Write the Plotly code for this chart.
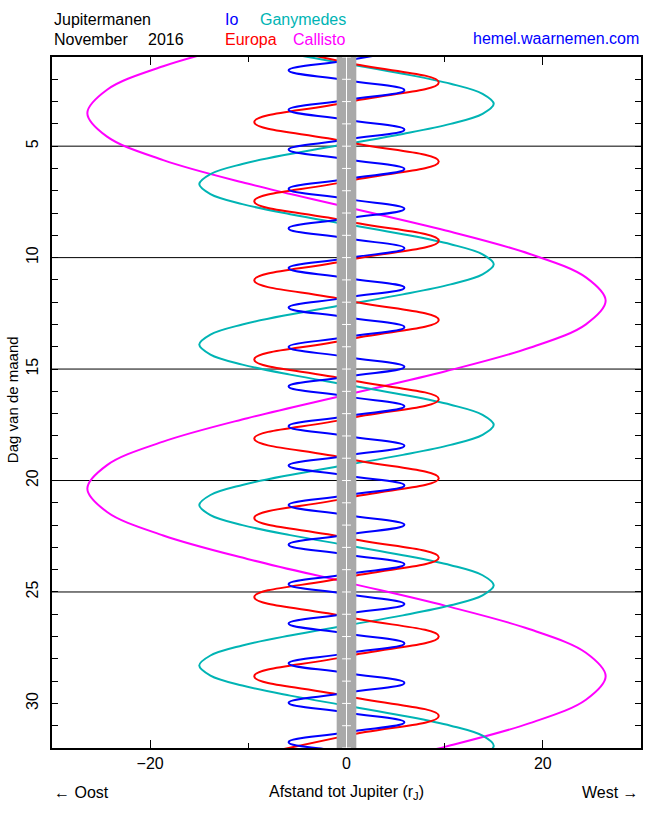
import plotly.graph_objects as go

# ---------------- data ----------------
# Io: turning points (day, distance in Jupiter radii) and zero crossings
io_turn_day = [0.71, 1.60, 2.49, 3.37, 4.26, 5.15, 6.03, 6.92, 7.81, 8.69, 9.58, 10.47,
               11.35, 12.24, 13.12, 14.01, 14.90, 15.78, 16.67, 17.56, 18.44, 19.33, 20.22,
               21.10, 21.99, 22.88, 23.76, 24.65, 25.54, 26.42, 27.31, 28.20, 29.08, 29.97,
               30.85, 31.74, 32.63]
io_turn_x = [5.9, -5.9, 5.9, -5.9, 5.9, -5.9, 5.9, -5.9, 5.9, -5.9, 5.9, -5.9,
             5.9, -5.9, 5.9, -5.9, 5.9, -5.9, 5.9, -5.9, 5.9, -5.9, 5.9,
             -5.9, 5.9, -5.9, 5.9, -5.9, 5.9, -5.9, 5.9, -5.9, 5.9, -5.9,
             5.9, -5.9, 5.9]
io_cross_day = [1.155, 2.045, 2.93, 3.815, 4.705, 5.59, 6.475, 7.365, 8.25, 9.135, 10.025,
                10.91, 11.795, 12.68, 13.565, 14.455, 15.34, 16.225, 17.115, 18.0, 18.885,
                19.775, 20.66, 21.545, 22.435, 23.32, 24.205, 25.095, 25.98, 26.865, 27.755,
                28.64, 29.525, 30.41, 31.295, 32.185]

# Europa: turning points and zero crossings
europa_turn_day = [0.36, 2.14, 3.92, 5.69, 7.47, 9.24, 11.02, 12.80, 14.57, 16.35, 18.12,
                   19.90, 21.68, 23.45, 25.23, 27.00, 28.78, 30.56, 32.33]
europa_turn_x = [-9.4, 9.4, -9.4, 9.4, -9.4, 9.4, -9.4, 9.4, -9.4, 9.4, -9.4,
                 9.4, -9.4, 9.4, -9.4, 9.4, -9.4, 9.4, -9.4]
europa_cross_day = [1.25, 3.03, 4.805, 6.58, 8.355, 10.13, 11.91, 13.685, 15.46, 17.235,
                    19.01, 20.79, 22.565, 24.34, 26.115, 27.89, 29.67, 31.445]

# Ganymedes: positions
ganymedes_day = [0.40, 0.85, 1.30, 1.75, 2.20, 2.65, 3.10, 3.55, 4.00, 4.45, 4.90, 5.35,
                 5.80, 6.25, 6.70, 7.15, 7.60, 8.05, 8.50, 8.95, 9.40, 9.85, 10.30, 10.75,
                 11.20, 11.65, 12.10, 12.55, 13.00, 13.45, 13.90, 14.35, 14.80, 15.25, 15.70,
                 16.15, 16.60, 17.05, 17.50, 17.95, 18.40, 18.85, 19.30, 19.75, 20.20, 20.65,
                 21.10, 21.55, 22.00, 22.45, 22.90, 23.35, 23.80, 24.25, 24.70, 25.15, 25.60,
                 26.05, 26.50, 26.95, 27.40, 27.85, 28.30, 28.75, 29.20, 29.65, 30.10, 30.55,
                 31.00, 31.45, 31.90, 32.35, 32.80]
ganymedes_x = [-10.61, -5.74,
               0.0, 5.74, 10.61, 13.86, 15.0, 13.86, 10.61, 5.74,
               0.0, -5.74, -10.61, -13.86, -15.0, -13.86, -10.61, -5.74,
               0.0, 5.74, 10.61, 13.86, 15.0, 13.86, 10.61, 5.74,
               0.0, -5.74, -10.61, -13.86, -15.0, -13.86, -10.61, -5.74,
               0.0, 5.74, 10.61, 13.86, 15.0, 13.86, 10.61, 5.74,
               0.0, -5.74, -10.61, -13.86, -15.0, -13.86, -10.61, -5.74,
               0.0, 5.74, 10.61, 13.86, 15.0, 13.86, 10.61, 5.74,
               0.0, -5.74, -10.61, -13.86, -15.0, -13.86, -10.61, -5.74,
               0.0, 5.74, 10.61, 13.86, 15.0, 13.86, 10.61]

# Callisto: positions
callisto_day = [-0.69, 0.363, 1.415, 2.468, 3.52, 4.573, 5.625, 6.678, 7.73, 8.783, 9.835,
                10.888, 11.94, 12.993, 14.045, 15.098, 16.15, 17.203, 18.255, 19.308, 20.36,
                21.413, 22.465, 23.518, 24.57, 25.623, 26.675, 27.728, 28.78, 29.833, 30.885,
                31.938, 32.99]
callisto_x = [0.0, -10.10, -18.67, -24.39, -26.4, -24.39, -18.67, -10.10,
              0.0, 10.10, 18.67, 24.39, 26.4, 24.39, 18.67, 10.10,
              0.0, -10.10, -18.67, -24.39, -26.4, -24.39, -18.67, -10.10,
              0.0, 10.10, 18.67, 24.39, 26.4, 24.39, 18.67, 10.10,
              0.0]

# axis ticks
x_tick_vals = [-20, 0, 20]
x_tick_text = ["\u221220", "0", "20"]
x_minor_vals = [-10, 10]
y_tick_vals = [5, 10, 15, 20, 25, 30]
y_tick_text = ["5", "10", "15", "20", "25", "30"]
y_minor_vals = [1, 2, 3, 4, 5, 6, 7, 8, 9, 10, 11, 12, 13, 14, 15, 16, 17, 18, 19, 20,
                21, 22, 23, 24, 25, 26, 27, 28, 29, 30, 31, 32]
week_lines = [5, 10, 15, 20, 25]
jupiter_radius = 1.0

# ---------------- build figure ----------------
def merged(turn_day, turn_x, cross_day):
    pts = list(zip(turn_day, turn_x)) + [(d, 0.0) for d in cross_day]
    pts.sort()
    return [p[0] for p in pts], [p[1] for p in pts]

io_day, io_x = merged(io_turn_day, io_turn_x, io_cross_day)
eu_day, eu_x = merged(europa_turn_day, europa_turn_x, europa_cross_day)

BLUE = "#0000ff"
RED = "#ff0000"
CYAN = "#00b4b4"
MAGENTA = "#ff00ff"

fig = go.Figure()
series = [
    ("Callisto", callisto_day, callisto_x, MAGENTA, 1.0),
    ("Ganymedes", ganymedes_day, ganymedes_x, CYAN, 1.0),
    ("Europa", eu_day, eu_x, RED, 1.3),
    ("Io", io_day, io_x, BLUE, 1.3),
]
for name, yy, xx, col, sm in series:
    fig.add_trace(go.Scatter(
        x=xx, y=yy, mode="lines", name=name,
        line=dict(color=col, width=2, shape="spline", smoothing=sm, simplify=False),
        hoverinfo="skip", showlegend=False))

shapes = []
for d in week_lines:
    shapes.append(dict(type="line", xref="paper", x0=0, x1=1, yref="y", y0=d, y1=d,
                       line=dict(color="black", width=1), layer="below"))
# Jupiter band
shapes.append(dict(type="rect", xref="x", x0=-jupiter_radius, x1=jupiter_radius,
                   yref="paper", y0=0, y1=1, fillcolor="#a9a9a9",
                   line=dict(width=0), layer="above"))
shapes.append(dict(type="line", xref="x", x0=0, x1=0, yref="paper", y0=0, y1=1,
                   line=dict(color="white", width=1), layer="above"))
for d in y_minor_vals:
    shapes.append(dict(type="line", xref="x", x0=-0.45, x1=0.45, yref="y", y0=d, y1=d,
                       line=dict(color="white", width=1), layer="above"))

FONT = "Liberation Sans, Arial, sans-serif"
ann = []
def text(t, x, y, xa="left", color="black", angle=0, size=16):
    ann.append(dict(text=t, x=x, y=y, xref="paper", yref="paper", xanchor=xa,
                    yanchor="middle", showarrow=False, textangle=angle,
                    font=dict(family=FONT, size=size, color=color)))

L, R, T, B = 52, 643, 57, 748
W, H = R - L, B - T
px = lambda p: (p - L) / W
py = lambda p: (B - p) / H

text("Jupitermanen", px(52), py(20))
text("November", px(52), py(39))
text("2016", px(146), py(39))
text("Io", px(224), py(20), color=BLUE)
text("Ganymedes", px(259), py(20), color=CYAN)
text("Europa", px(224), py(39), color=RED)
text("Callisto", px(292), py(39), color=MAGENTA)
text("hemel.waarnemen.com", px(643), py(38), xa="right", color=BLUE)
text("\u2190 Oost", px(52), py(792))
text("Afstand tot Jupiter (r<sub>J</sub>)", px(348), py(792), xa="center")
text("West \u2192", px(643), py(792), xa="right")
text("Dag van de maand", px(12), py(400), xa="center", angle=-90, size=15)

fig.update_layout(
    width=650, height=813,
    margin=dict(l=L, r=650 - R, t=T, b=813 - B, pad=0),
    paper_bgcolor="white", plot_bgcolor="white",
    font=dict(family=FONT, size=16, color="black"),
    showlegend=False, shapes=shapes, annotations=ann,
)
fig.update_xaxes(
    range=[-30, 30], tickvals=x_tick_vals, ticktext=x_tick_text,
    ticks="inside", ticklen=8, tickwidth=1, tickcolor="black",
    showline=True, linecolor="black", linewidth=1.5, mirror="ticks",
    showgrid=False, zeroline=False,
    minor=dict(tickvals=x_minor_vals, ticks="inside", ticklen=5, tickcolor="black", showgrid=False),
    tickfont=dict(size=16),
)
fig.update_yaxes(
    range=[32, 1], tickvals=y_tick_vals, ticktext=y_tick_text, tickangle=-90,
    ticks="inside", ticklen=6, tickwidth=1, tickcolor="black",
    showline=True, linecolor="black", linewidth=1.5, mirror="ticks",
    showgrid=False, zeroline=False, tickfont=dict(size=16), ticklabelstandoff=6,
    minor=dict(tickvals=y_minor_vals, ticks="inside", ticklen=6, tickcolor="black", showgrid=False),
)

fig.write_html("out.html")
